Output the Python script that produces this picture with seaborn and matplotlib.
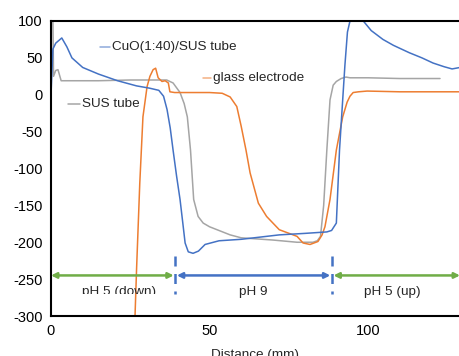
import numpy as np
import pandas as pd
import matplotlib
matplotlib.use("Agg")
import matplotlib.pyplot as plt
import seaborn as sns
from matplotlib.transforms import Bbox, TransformedBbox

# ---------------------------------------------------------
# DATA
# ---------------------------------------------------------
cuo_x = [0, 0.6, 1.5, 3.4, 5.0, 6.6, 10, 15, 21, 27, 31, 34, 35.5, 36.6, 37.6,
         38.5, 39.6, 40.7, 41.6, 42.3, 43.3, 44.8, 46.5, 48.6, 53, 60, 72, 80,
         87, 88.5, 90, 91, 92, 92.7, 93.5, 94.3, 95.5, 97, 98.5, 101, 104.7,
         108, 113, 117, 120.5, 124, 126.5, 129]
cuo_y = [0, 62, 70, 77, 65, 50, 37, 28, 19, 12, 9, 6, -2, -20, -45,
         -75, -110, -142, -175, -201, -213, -215, -212, -203, -198, -196, -190, -188,
         -186, -184, -174, -75, -7, 40, 85, 100, 108, 110, 100, 87, 75,
         67, 57, 50, 43, 38, 35, 37]

sus_x = [0.6, 0.6, 0.8, 1.5, 2.2, 3.2, 5, 15, 25, 34, 36.5, 38.5, 40.7, 42,
         43, 44, 45, 46.4, 48, 50, 56.5, 60, 70, 77.6, 82.6, 84, 85, 86, 87,
         88, 89, 90, 91.5, 93, 94.3, 100, 110, 122.7]
sus_y = [110, 100, 25, 33, 34, 19, 19, 19, 20, 20, 20, 16, 3, -12,
         -30, -75, -142, -165, -174, -179, -190, -194, -197, -200, -200, -198, -192, -150, -75,
         -7, 13, 18, 22, 24, 23, 23, 22, 22]

glass_x = [26.5, 27, 28, 29, 30.3, 31.2, 32.2, 33, 33.8, 35, 36, 37, 37.5, 39,
           45, 50, 54, 56.5, 58.6, 60, 61.5, 62.8, 65.4, 68, 72, 77.6, 79.5,
           81.7, 84.2, 85.5, 86.4, 88, 90, 92, 93.4, 94.3, 95.3, 97, 99.7, 110,
           120, 129]
glass_y = [-300, -235, -120, -30, 11, 25, 34, 36, 23, 18, 19, 16, 4, 3,
           3, 3, 2, -3, -16, -43, -75, -106, -147, -165, -183, -192, -201,
           -203, -199, -190, -179, -142, -75, -30, -10, -2, 3, 4, 5, 4,
           4, 4]

# phase boundaries (mm) and their labels
phase_edges = [0, 39.2, 88.6, 129]
phase_labels = ["pH 5 (down)", "pH 9", "pH 5 (up)"]
phase_label_x = [21.5, 63.7, 107.5]

BLUE = "#4472C4"
ORANGE = "#ED7D31"
GRAY = "#A5A5A5"
GREEN = "#70AD47"

cuo = pd.DataFrame({"x": cuo_x, "y": cuo_y})
sus = pd.DataFrame({"x": sus_x, "y": sus_y})
glass = pd.DataFrame({"x": glass_x, "y": glass_y})

sns.set_theme(style="white")
plt.rcParams["font.family"] = ["Liberation Sans", "DejaVu Sans"]
plt.rcParams["axes.unicode_minus"] = False

fig = plt.figure(figsize=(4.6, 3.56), dpi=100)
ax = fig.add_axes([51 / 460, 40 / 356, 1 - 51 / 460, 295 / 356])

for df, col in [(sus, GRAY), (glass, ORANGE), (cuo, BLUE)]:
    sns.lineplot(data=df, x="x", y="y", color=col, lw=1.1, sort=False,
                 estimator=None, ax=ax)

# inline series labels
ax.plot([15.5, 18.6], [65, 65], color=BLUE, lw=1.1, alpha=0.6)
ax.text(19.2, 65, "CuO(1:40)/SUS tube", fontsize=9.7, va="center")
ax.plot([48.0, 50.5], [23, 23], color=ORANGE, lw=1.1, alpha=0.6)
ax.text(51.0, 23, "glass electrode", fontsize=9.7, va="center")
ax.plot([5.4, 9.2], [-13, -13], color=GRAY, lw=1.1)
ax.text(9.8, -13, "SUS tube", fontsize=9.7, va="center")

# phase arrows
arrow_cols = [GREEN, BLUE, GREEN]
for i, col in enumerate(arrow_cols):
    x0 = phase_edges[i] + (0.0 if i == 0 else 0.5)
    x1 = phase_edges[i + 1] - (0.5 if i < 2 else 0.0)
    ax.annotate("", xy=(x1, -245), xytext=(x0, -245),
                arrowprops=dict(arrowstyle="<|-|>", color=col, lw=1.8,
                                mutation_scale=8, shrinkA=0, shrinkB=0),
                annotation_clip=False)
for xe in phase_edges[1:3]:
    ax.plot([xe, xe], [-218, -270], color=BLUE, lw=1.8, ls=(0, (4, 3)))

# the first label sits in a box that cuts its lower edge
clip = TransformedBbox(Bbox([[-10, -269.5], [140, 100]]), ax.transData)
for lab, xl in zip(phase_labels, phase_label_x):
    t = ax.text(xl, -271, lab, fontsize=9.7, ha="center", va="baseline")
    if lab == "pH 5 (down)":
        t.set_clip_on(True)
        t.set_clip_box(clip)

ax.set_xlim(0, 129)
ax.set_ylim(-300, 100)
ax.set_xticks([0, 50, 100])
ax.set_yticks(np.arange(-300, 101, 50))
ax.set_xlabel("Distance (mm)", fontsize=9.7, labelpad=8)
ax.set_ylabel("")
ax.tick_params(direction="in", length=4, width=1, colors="black",
               labelsize=10.5, pad=6)
for side in ["left", "bottom", "top"]:
    ax.spines[side].set_color("black")
    ax.spines[side].set_linewidth(1.5)
ax.spines["right"].set_visible(False)

fig.savefig("out.png", dpi=100)
